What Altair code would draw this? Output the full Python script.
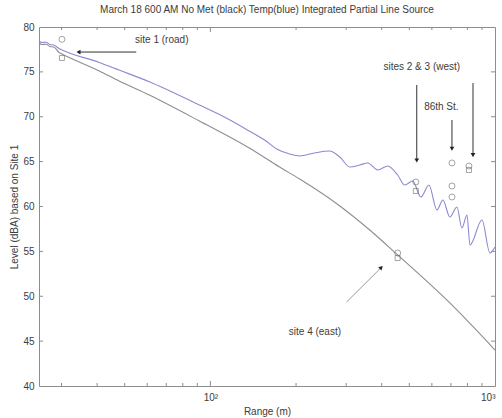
import altair as alt
import pandas as pd

W, H = 456, 359

title_text = "March 18 600 AM No Met (black) Temp(blue) Integrated Partial Line Source"

# No Met (black/gray) curve
nomet_range = [25, 25.6, 26.5, 27.3, 28.2, 29.4, 30.1, 40.7, 47.8, 61.0, 91.5, 137, 175, 206, 285, 363, 455, 694, 1000]
nomet_level = [78.22, 78.05, 78.08, 77.83, 77.77, 77.16, 76.99, 75.10, 73.98, 72.42, 69.53, 66.52, 64.40, 63.06, 60.06, 57.38, 54.60, 49.25, 44.01]

# Temp (blue) curve
temp_range = [25, 25.6, 26.5, 27.3, 28.2, 29.4, 30.1, 40.7, 47.8, 61.0, 91.5, 112, 137, 155, 171, 190, 206,
              232, 262, 285, 309, 335, 357, 387, 420, 455, 482, 514, 549, 586, 625, 656, 694, 735, 765, 797,
              817, 900, 960, 1000]
temp_level = [78.44, 78.27, 78.30, 78.05, 77.99, 77.60, 77.44, 76.05, 75.20, 73.90, 71.31, 69.97, 68.41, 67.41,
              66.41, 65.85, 65.63, 65.96, 66.18, 65.52, 64.40, 64.62, 64.85, 64.07, 64.51, 63.51, 62.40, 62.84,
              61.06, 62.40, 59.61, 60.72, 58.83, 59.94, 57.60, 59.05, 55.71, 58.50, 54.82, 55.49]

# measured sites
circle_range = [30.1, 527, 706, 706, 706, 810, 455]
circle_level = [78.63, 62.73, 64.85, 62.28, 61.06, 64.51, 54.82]
square_range = [30.1, 527, 810, 455]
square_level = [76.55, 61.73, 64.07, 54.26]

# annotation arrows (tail -> head)
arrow_from_range = [54.9, 531, 706, 837, 301]
arrow_from_level = [77.21, 73.54, 69.64, 73.76, 49.36]
arrow_to_range = [34.6, 531, 706, 837, 397]
arrow_to_level = [77.21, 65.2, 66.5, 65.8, 53.15]
arrow_angle = [270, 180, 180, 180, 45]
arrow_color = ["#333333", "#333333", "#333333", "#333333", "#9a9a9a"]

# annotation texts
label_text = ["site 1 (road)", "sites 2 & 3 (west)", "86th St.", "site 4 (east)"]
label_range = [67.5, 553, 648, 233]
label_level = [78.55, 75.54, 71.09, 46.02]

x_minor = [30, 40, 50, 60, 70, 80, 90, 200, 300, 400, 500, 600, 700, 800, 900]
x_major = [100]
y_ticks = [45, 50, 55, 60, 65, 70, 75]

FONT = "Liberation Sans"
TEXT = "#3c3c3c"
FRAME = "#8c8c8c"

xscale = alt.Scale(type="log", domain=[25, 1000])
yscale = alt.Scale(domain=[40, 80])

xaxis = alt.Axis(values=[100, 1000], labelExpr="datum.value == 100 ? '10\u00b2' : '10\u00b3'",
                 ticks=False, domain=False, grid=False, labelPadding=6, titlePadding=4,
                 labelFontSize=10, titleFontSize=10, labelColor=TEXT, titleColor=TEXT,
                 labelFont=FONT, titleFont=FONT, titleFontWeight="normal", title="Range (m)")
yaxis = alt.Axis(values=[40, 45, 50, 55, 60, 65, 70, 75, 80], ticks=False, domain=False, grid=False,
                 labelPadding=5, titlePadding=3, labelFontSize=10, titleFontSize=10, labelColor=TEXT,
                 titleColor=TEXT, labelFont=FONT, titleFont=FONT, titleFontWeight="normal",
                 title="Level (dBA) based on Site 1")


def X(f):
    return alt.X(f"{f}:Q", scale=xscale, axis=xaxis)


def Y(f):
    return alt.Y(f"{f}:Q", scale=yscale, axis=yaxis)


nomet = pd.DataFrame({"range": nomet_range, "level": nomet_level})
temp = pd.DataFrame({"range": temp_range, "level": temp_level})
circles = pd.DataFrame({"range": circle_range, "level": circle_level})
squares = pd.DataFrame({"range": square_range, "level": square_level})
arrows = pd.DataFrame({"range": arrow_from_range, "level": arrow_from_level,
                       "range2": arrow_to_range, "level2": arrow_to_level,
                       "angle": arrow_angle, "color": arrow_color})
labels = pd.DataFrame({"range": label_range, "level": label_level, "text": label_text})
xt_minor = pd.DataFrame({"range": x_minor})
xt_major = pd.DataFrame({"range": x_major})
yt = pd.DataFrame({"level": y_ticks})

line_nomet = alt.Chart(nomet).mark_line(color="#8e8e8e", strokeWidth=1.1, interpolate="monotone").encode(
    x=X("range"), y=Y("level"))
line_temp = alt.Chart(temp).mark_line(color="#8a8ad0", strokeWidth=1.1, interpolate="monotone").encode(
    x=X("range"), y=Y("level"))
pts_c = alt.Chart(circles).mark_point(shape="circle", size=36, color="#707070", strokeWidth=0.9).encode(
    x=X("range"), y=Y("level"))
pts_s = alt.Chart(squares).mark_point(shape="square", size=25, color="#707070", strokeWidth=0.9).encode(
    x=X("range"), y=Y("level"))
arrow_lines = alt.Chart(arrows).mark_rule(strokeWidth=1).encode(
    x=X("range"), y=Y("level"), x2="range2:Q", y2="level2:Q",
    color=alt.Color("color:N", scale=None))
arrow_heads = alt.Chart(arrows).mark_point(shape="triangle", filled=True, size=22, color="#222222",
                                           opacity=1).encode(
    x=X("range2"), y=Y("level2"), angle=alt.Angle("angle:Q", scale=None))
texts = alt.Chart(labels).mark_text(font=FONT, fontSize=10, color=TEXT, baseline="middle").encode(
    x=X("range"), y=Y("level"), text="text:N")

tick_color = FRAME
bt_minor = alt.Chart(xt_minor).mark_rule(color=tick_color).encode(
    x=X("range"), y=alt.value(H), y2=alt.value(H - 3))
tt_minor = alt.Chart(xt_minor).mark_rule(color=tick_color).encode(
    x=X("range"), y=alt.value(0), y2=alt.value(3))
bt_major = alt.Chart(xt_major).mark_rule(color=tick_color).encode(
    x=X("range"), y=alt.value(H), y2=alt.value(H - 5))
tt_major = alt.Chart(xt_major).mark_rule(color=tick_color).encode(
    x=X("range"), y=alt.value(0), y2=alt.value(5))
lt = alt.Chart(yt).mark_rule(color=tick_color).encode(
    y=Y("level"), x=alt.value(0), x2=alt.value(4))
rt = alt.Chart(yt).mark_rule(color=tick_color).encode(
    y=Y("level"), x=alt.value(W), x2=alt.value(W - 4))

chart = alt.layer(
    bt_minor, tt_minor, bt_major, tt_major, lt, rt,
    line_nomet, line_temp, pts_c, pts_s, arrow_lines, arrow_heads, texts
).properties(
    width=W, height=H,
    title=alt.TitleParams(text=title_text, fontSize=10, font=FONT, fontWeight="normal", color=TEXT,
                          offset=7, anchor="middle"),
    autosize=alt.AutoSizeParams(type="none"),
    padding={"left": 39, "top": 27, "right": 7, "bottom": 32},
).configure_view(stroke=FRAME, strokeWidth=1)

chart.save("out.html", embed_options={"renderer": "svg", "actions": False})
